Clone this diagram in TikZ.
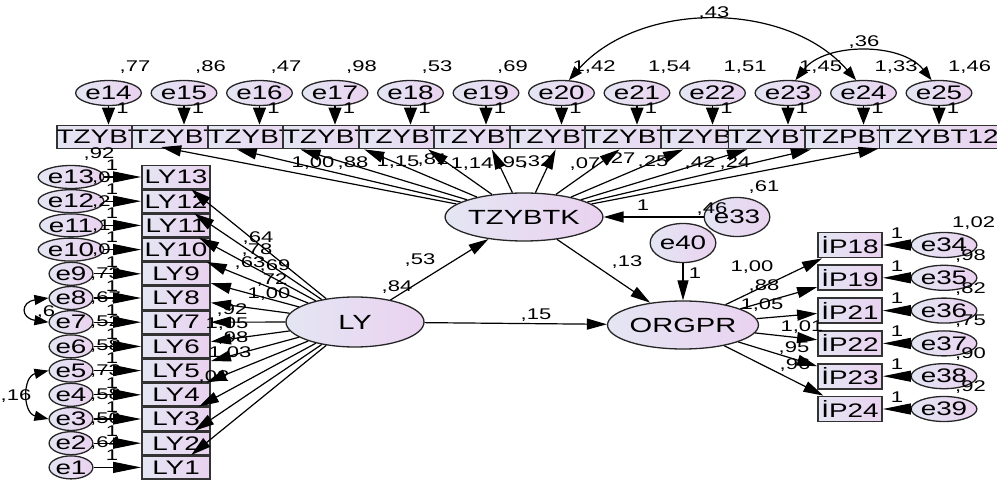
\documentclass[tikz,border=0pt]{standalone}
\usepackage{fontspec}
\usepackage{tikz}
\usetikzlibrary{shapes.geometric,arrows.meta}
\newfontfamily\amosfont{Liberation Sans}[FakeStretch=1.42]
\newcommand\amosbox{\amosfont\fontsize{19.6}{21}\selectfont}
\newcommand\amoslat{\amosfont\fontsize{20.5}{22}\selectfont}
\newcommand\amosnum{\amosfont\fontsize{15.5}{17}\selectfont}
\definecolor{lavleft}{RGB}{228,230,243}
\definecolor{lavright}{RGB}{234,210,240}
\tikzset{
  obs/.style={rectangle, draw=black!80, line width=1.8pt, left color=lavleft, right color=lavright,
    minimum width=68pt, minimum height=23pt, inner sep=0pt, font=\amosbox},
  ipbox/.style={obs, minimum width=64pt, minimum height=25pt},
  lat/.style={ellipse, draw=black!85, line width=1.3pt, left color=lavleft, right color=lavright,
    inner sep=0pt, font=\amoslat},
  err/.style={ellipse, draw=black!85, line width=1.3pt, left color=lavleft, right color=lavright,
    minimum width=42pt, minimum height=25pt, inner sep=0pt, font=\amosbox},
  serr/.style={err, minimum width=37pt, minimum height=23pt},
  est/.style={inner sep=0pt, font=\amosnum},
  reg/.style={-{Triangle[length=20pt,width=11pt]}, line width=1.2pt},
  epath/.style={-{Triangle[length=28pt,width=11pt]}, line width=1.2pt},
  tpath/.style={-{Triangle[length=17pt,width=13pt]}, line width=1.2pt},
  cov/.style={{Triangle[length=14pt,width=10pt]}-{Triangle[length=14pt,width=10pt]}, line width=1.2pt}
}
\begin{document}
\begin{tikzpicture}[x=1pt, y=-1pt, node distance=24.2pt]
\useasboundingbox (0,0) rectangle (997,481);

% top indicators
\begin{scope}[node distance=75.5pt]
\node (t1) [obs] at (108.5,137) {TZYBT1};
\node (t2) [obs, right of=t1] {TZYBT2};
\node (t3) [obs, right of=t2] {TZYBT3};
\node (t4) [obs, right of=t3] {TZYBT4};
\node (t5) [obs, right of=t4] {TZYBT5};
\node (t6) [obs, right of=t5] {TZYBT6};
\node (t7) [obs, right of=t6] {TZYBT7};
\node (t8) [obs, right of=t7] {TZYBT8};
\node (t9) [obs, right of=t8] {TZYBT9};
\node (t10) [obs, right of=t9] {TZYBT10};
\node (t11) [obs, right of=t10] {TZPBT11};
\node (t12) [obs, right of=t11] {TZYBT12};
\node (e14) [err, above of=t1, node distance=44pt] {e14};
\node (e15) [err, right of=e14] {e15};
\node (e16) [err, right of=e15] {e16};
\node (e17) [err, right of=e16] {e17};
\node (e18) [err, right of=e17] {e18};
\node (e19) [err, right of=e18] {e19};
\node (e20) [err, right of=e19] {e20};
\node (e21) [err, right of=e20] {e21};
\node (e22) [err, right of=e21] {e22};
\node (e23) [err, right of=e22] {e23};
\node (e24) [err, right of=e23] {e24};
\node (e25) [err, right of=e24] {e25};
\end{scope}

% left indicators
\node (ly13) [obs] at (176,177) {LY13};
\node (ly12) [obs, below of=ly13] {LY12};
\node (ly11) [obs, below of=ly12] {LY11};
\node (ly10) [obs, below of=ly11] {LY10};
\node (ly9) [obs, below of=ly10] {LY9};
\node (ly8) [obs, below of=ly9] {LY8};
\node (ly7) [obs, below of=ly8] {LY7};
\node (ly6) [obs, below of=ly7] {LY6};
\node (ly5) [obs, below of=ly6] {LY5};
\node (ly4) [obs, below of=ly5] {LY4};
\node (ly3) [obs, below of=ly4] {LY3};
\node (ly2) [obs, below of=ly3] {LY2};
\node (ly1) [obs, below of=ly2] {LY1};
\node (e13) [serr, left of=ly13, node distance=105pt] {e13};
\node (e12) [serr, below of=e13] {e12};
\node (e11) [serr, below of=e12] {e11};
\node (e10) [serr, below of=e11] {e10};
\node (e9) [serr, below of=e10] {e9};
\node (e8) [serr, below of=e9] {e8};
\node (e7) [serr, below of=e8] {e7};
\node (e6) [serr, below of=e7] {e6};
\node (e5) [serr, below of=e6] {e5};
\node (e4) [serr, below of=e5] {e4};
\node (e3) [serr, below of=e4] {e3};
\node (e2) [serr, below of=e3] {e2};
\node (e1) [serr, below of=e2] {e1};

% right indicators
\begin{scope}[node distance=32.8pt]
\node (ip18) [ipbox] at (850,245) {İP18};
\node (ip19) [ipbox, below of=ip18] {İP19};
\node (ip21) [ipbox, below of=ip19] {İP21};
\node (ip22) [ipbox, below of=ip21] {İP22};
\node (ip23) [ipbox, below of=ip22] {İP23};
\node (ip24) [ipbox, below of=ip23] {İP24};
\node (e34) [err, right of=ip18, node distance=94pt] {e34};
\node (e35) [err, below of=e34] {e35};
\node (e36) [err, below of=e35] {e36};
\node (e37) [err, below of=e36] {e37};
\node (e38) [err, below of=e37] {e38};
\node (e39) [err, below of=e38] {e39};
\end{scope}

% latent variables
\node (ly) [lat, minimum width=138pt, minimum height=50pt] at (355,322) {LY};
\node (tz) [lat, minimum width=136pt, minimum height=48pt] at (524,217) {TZYBTK};
\node (org) [lat, minimum width=128pt, minimum height=48pt] at (683,325) {ORGPR};
\node (e33) [err, minimum width=60pt, minimum height=39pt] at (737,217) {e33};
\node (e40) [err, minimum width=63pt, minimum height=39pt, above of=org, node distance=82pt] {e40};

% estimates
\node (v14) [est, anchor=west] at (119.5,67) {,77}; \node (v15) [est, anchor=west] at (195,67) {,86};
\node (v16) [est, anchor=west] at (270.5,67) {,47}; \node (v17) [est, anchor=west] at (346,67) {,98};
\node (v18) [est, anchor=west] at (421.5,67) {,53}; \node (v19) [est, anchor=west] at (497,67) {,69};
\node (v20) [est, anchor=west] at (572.5,67) {1,42}; \node (v21) [est, anchor=west] at (648,67) {1,54};
\node (v22) [est, anchor=west] at (723.5,67) {1,51}; \node (v23) [est, anchor=west] at (799,67) {1,45};
\node (v24) [est, anchor=west] at (874.5,67) {1,33}; \node (v25) [est, anchor=west] at (948,67) {1,46};
\node (u14) [est] at (122.5,108) {1}; \node (u15) [est] at (198,108) {1}; \node (u16) [est] at (273.5,108) {1};
\node (u17) [est] at (349,108) {1}; \node (u18) [est] at (424.5,108) {1}; \node (u19) [est] at (500,108) {1};
\node (u20) [est] at (575.5,108) {1}; \node (u21) [est] at (651,108) {1}; \node (u22) [est] at (726.5,108) {1};
\node (u23) [est] at (802,108) {1}; \node (u24) [est] at (877.5,108) {1}; \node (u25) [est] at (953,108) {1};

\node (lt1) [est] at (313,163) {1,00}; \node (lt2) [est] at (353,163) {,88}; \node (lt3) [est] at (398,162) {1,15};
\node (lt4) [est] at (433,160) {,81}; \node (lt5) [est] at (472,164) {1,14}; \node (lt6) [est] at (512,163) {,95};
\node (lt7) [est] at (537,162) {,32}; \node (lt8) [est] at (585,164) {,07}; \node (lt9) [est] at (620,159) {,27};
\node (lt10) [est] at (653,162) {,25}; \node (lt11) [est] at (700,163) {,42}; \node (lt12) [est] at (735,163) {,24};

\node (r13) [est] at (99,154) {,92};
\node (v13) [est, anchor=west] at (92,178) {,0}; \node (v12) [est, anchor=west] at (92,202) {,2};
\node (v11) [est, anchor=west] at (92,226) {,1}; \node (v10) [est, anchor=west] at (92,250) {,0};
\node (v9) [est, anchor=west] at (90,274) {,73}; \node (v8) [est, anchor=west] at (90,298) {,67};
\node (v7) [est, anchor=west] at (90,322) {,52}; \node (v6) [est, anchor=west] at (90,346) {,58};
\node (v5) [est, anchor=west] at (90,371) {,73}; \node (v4) [est, anchor=west] at (90,395) {,58};
\node (v3) [est, anchor=west] at (90,419) {,50}; \node (v2) [est, anchor=west] at (90,443) {,64};
\node (u13) [est] at (112,165) {1}; \node (u12) [est] at (112,189.2) {1}; \node (u11) [est] at (112,213.4) {1};
\node (u10) [est] at (112,237.6) {1}; \node (u9) [est] at (112,261.8) {1}; \node (u8) [est] at (112,286) {1};
\node (u7) [est] at (112,310.2) {1}; \node (u6) [est] at (112,334.4) {1}; \node (u5) [est] at (112,358.6) {1};
\node (u4) [est] at (112,382.8) {1}; \node (u3) [est] at (112,407) {1}; \node (u2) [est] at (112,431.2) {1};
\node (u1) [est] at (112,455.4) {1};

\node (ll13) [est] at (258,238) {,64}; \node (ll12) [est] at (257,250) {,78}; \node (ll11) [est] at (250,263) {,63};
\node (ll10) [est] at (275,266) {,69}; \node (ll9) [est] at (272,280) {,72}; \node (ll8) [est] at (269,294) {1,00};
\node (ll7) [est] at (232,310) {,92}; \node (ll6) [est] at (227,324) {1,05}; \node (ll5) [est] at (233,338) {,98};
\node (ll4) [est] at (230,353) {1,03}; \node (ll3) [est] at (214,377) {,02};

\node (lo18) [est] at (752,267) {1,00}; \node (lo19) [est] at (764,286) {,88}; \node (lo21) [est] at (762,305) {1,05};
\node (lo22) [est] at (802,327) {1,01}; \node (lo23) [est] at (794,348) {,95}; \node (lo24) [est] at (795,365) {,96};
\node (v34) [est, anchor=west] at (952,223) {1,02}; \node (v35) [est, anchor=west] at (955,255.8) {,98};
\node (v36) [est, anchor=west] at (955,288.6) {,82}; \node (v37) [est, anchor=west] at (955,321.4) {,75};
\node (v38) [est, anchor=west] at (955,354.2) {,90}; \node (v39) [est, anchor=west] at (955,387) {,92};
\node (u34) [est] at (897,233) {1}; \node (u35) [est] at (897,265.8) {1}; \node (u36) [est] at (897,298.6) {1};
\node (u37) [est] at (897,331.4) {1}; \node (u38) [est] at (897,364.2) {1}; \node (u39) [est] at (897,397) {1};

\node (b53) [est] at (420,260) {,53}; \node (b84) [est] at (397,287) {,84};
\node (b15) [est] at (536,315) {,15}; \node (b13) [est] at (627,262) {,13};
\node (b33) [est] at (643,205) {1}; \node (b46) [est] at (712,209) {,46};
\node (b61) [est] at (764,187) {,61}; \node (b40) [est] at (695,273) {1};
\node (c43) [est] at (714,13) {,43}; \node (c36) [est] at (864,42) {,36};
\node (c16) [est] at (16,396) {,16}; \node (c6) [est] at (46,312) {,6};

% paths
\draw[tpath] (e14) -- (t1); \draw[tpath] (e15) -- (t2); \draw[tpath] (e16) -- (t3); \draw[tpath] (e17) -- (t4);
\draw[tpath] (e18) -- (t5); \draw[tpath] (e19) -- (t6); \draw[tpath] (e20) -- (t7); \draw[tpath] (e21) -- (t8);
\draw[tpath] (e22) -- (t9); \draw[tpath] (e23) -- (t10); \draw[tpath] (e24) -- (t11); \draw[tpath] (e25) -- (t12);
\draw[reg] (tz) -- (t1); \draw[reg] (tz) -- (t2); \draw[reg] (tz) -- (t3); \draw[reg] (tz) -- (t4);
\draw[reg] (tz) -- (t5); \draw[reg] (tz) -- (t6); \draw[reg] (tz) -- (t7); \draw[reg] (tz) -- (t8);
\draw[reg] (tz) -- (t9); \draw[reg] (tz) -- (t10); \draw[reg] (tz) -- (t11); \draw[reg] (tz) -- (t12);

\draw[epath] (e13) -- (ly13); \draw[epath] (e12) -- (ly12); \draw[epath] (e11) -- (ly11); \draw[epath] (e10) -- (ly10);
\draw[epath] (e9) -- (ly9); \draw[epath] (e8) -- (ly8); \draw[epath] (e7) -- (ly7); \draw[epath] (e6) -- (ly6);
\draw[epath] (e5) -- (ly5); \draw[epath] (e4) -- (ly4); \draw[epath] (e3) -- (ly3); \draw[epath] (e2) -- (ly2);
\draw[epath] (e1) -- (ly1);
\draw[reg] (ly) -- (ly13); \draw[reg] (ly) -- (ly12); \draw[reg] (ly) -- (ly11); \draw[reg] (ly) -- (ly10);
\draw[reg] (ly) -- (ly9); \draw[reg] (ly) -- (ly8); \draw[reg] (ly) -- (ly7); \draw[reg] (ly) -- (ly6);
\draw[reg] (ly) -- (ly5); \draw[reg] (ly) -- (ly4); \draw[reg] (ly) -- (ly3); \draw[reg] (ly) -- (ly2);
\draw[reg] (ly) -- (ly1);

\draw[epath] (e34) -- (ip18); \draw[epath] (e35) -- (ip19); \draw[epath] (e36) -- (ip21);
\draw[epath] (e37) -- (ip22); \draw[epath] (e38) -- (ip23); \draw[epath] (e39) -- (ip24);
\draw[reg] (org) -- (ip18); \draw[reg] (org) -- (ip19); \draw[reg] (org) -- (ip21);
\draw[reg] (org) -- (ip22); \draw[reg] (org) -- (ip23); \draw[reg] (org) -- (ip24);

\draw[reg] (ly) -- (tz); \draw[reg] (ly) -- (org); \draw[reg] (tz) -- (org);
\draw[reg] (e33) -- (tz); \draw[reg] (e40) -- (org);

% covariances
\draw[cov] (e20.60) .. controls +(70,-80) and +(-70,-80) .. (e24.120);
\draw[cov] (e23.60) .. controls +(30,-38) and +(-30,-38) .. (e25.120);
\draw[cov] (e5.west) .. controls +(-26,6) and +(-26,-6) .. (e3.west);
\draw[cov] (e8.west) .. controls +(-28,4) and +(-28,-4) .. (e7.west);

\end{tikzpicture}
\end{document}
